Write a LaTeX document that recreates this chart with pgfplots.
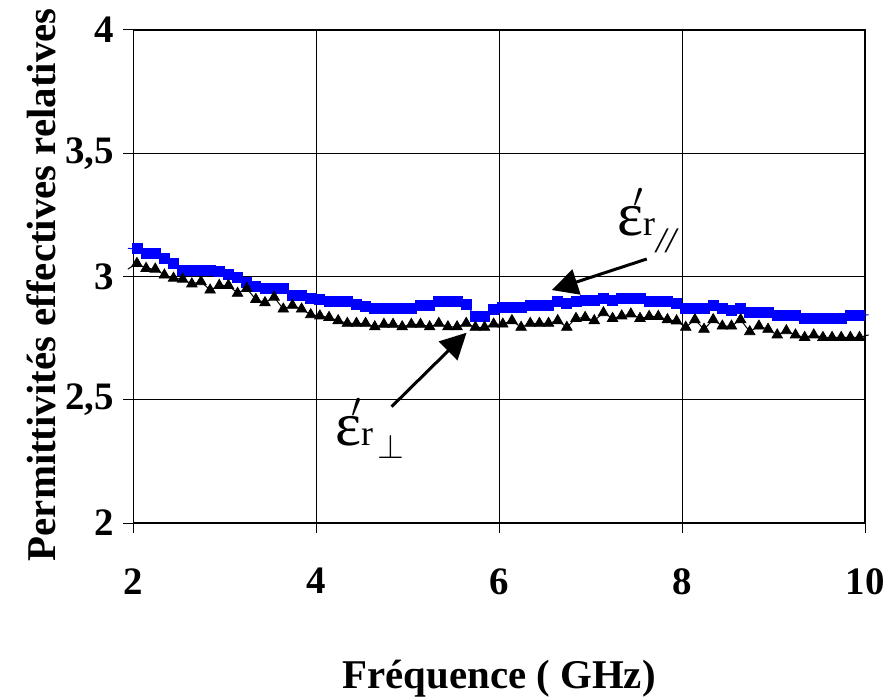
\documentclass[border=0pt]{standalone}
\usepackage{fontspec}
\setmainfont{Liberation Serif}
\usepackage{pgfplots}
\usepackage{pgfplotstable}
\pgfplotsset{compat=1.18}
\usetikzlibrary{arrows.meta}

% eps'_r parallel (blue squares)
\pgfplotstableread{
f     e
1.94  3.114
2.04  3.112
2.14  3.094
2.24  3.094
2.34  3.074
2.44  3.053
2.54  3.024
2.64  3.024
2.74  3.024
2.84  3.024
2.94  3.019
3.04  3.009
3.14  2.997
3.24  2.975
3.34  2.961
3.44  2.952
3.54  2.950
3.64  2.950
3.74  2.925
3.84  2.925
3.94  2.913
4.04  2.907
4.14  2.899
4.24  2.899
4.34  2.899
4.44  2.887
4.54  2.880
4.64  2.871
4.74  2.871
4.84  2.871
4.94  2.871
5.04  2.871
5.14  2.884
5.24  2.884
5.34  2.899
5.44  2.899
5.54  2.899
5.64  2.887
5.74  2.837
5.84  2.837
5.94  2.865
6.04  2.875
6.14  2.875
6.24  2.875
6.34  2.884
6.44  2.884
6.54  2.884
6.64  2.897
6.74  2.889
6.84  2.898
6.94  2.902
7.04  2.902
7.14  2.913
7.24  2.902
7.34  2.913
7.44  2.913
7.54  2.913
7.64  2.900
7.74  2.900
7.84  2.900
7.94  2.890
8.04  2.871
8.14  2.871
8.24  2.871
8.34  2.884
8.44  2.871
8.54  2.861
8.64  2.871
8.74  2.853
8.84  2.853
8.94  2.853
9.04  2.841
9.14  2.841
9.24  2.841
9.34  2.830
9.44  2.830
9.54  2.830
9.64  2.830
9.74  2.830
9.84  2.841
9.94  2.841
10.04 2.845
}\tpar

% eps'_r perpendicular (black triangles)
\pgfplotstableread{
f     e
1.94  3.030
2.04  3.053
2.14  3.033
2.24  3.030
2.34  3.006
2.44  2.993
2.54  2.989
2.64  2.970
2.74  2.979
2.84  2.945
2.94  2.964
3.04  2.964
3.14  2.932
3.24  2.951
3.34  2.907
3.44  2.894
3.54  2.916
3.64  2.868
3.74  2.883
3.84  2.868
3.94  2.845
4.04  2.840
4.14  2.834
4.24  2.821
4.34  2.810
4.44  2.810
4.54  2.810
4.64  2.796
4.74  2.806
4.84  2.806
4.94  2.796
5.04  2.806
5.14  2.806
5.24  2.796
5.34  2.810
5.44  2.796
5.54  2.796
5.64  2.810
5.74  2.794
5.84  2.794
5.94  2.807
6.04  2.807
6.14  2.821
6.24  2.794
6.34  2.810
6.44  2.810
6.54  2.810
6.64  2.821
6.74  2.794
6.84  2.830
6.94  2.834
7.04  2.821
7.14  2.853
7.24  2.830
7.34  2.840
7.44  2.848
7.54  2.830
7.64  2.838
7.74  2.838
7.84  2.825
7.94  2.820
8.04  2.794
8.14  2.825
8.24  2.786
8.34  2.825
8.44  2.799
8.54  2.799
8.64  2.825
8.74  2.776
8.84  2.799
8.94  2.786
9.04  2.763
9.14  2.780
9.24  2.763
9.34  2.753
9.44  2.763
9.54  2.753
9.64  2.753
9.74  2.753
9.84  2.753
9.94  2.753
10.04 2.763
}\tperp

\begin{document}
\begin{tikzpicture}
\begin{axis}[
  scale only axis, width=365.85bp, height=246.5bp,
  xmin=2, xmax=10, ymin=2, ymax=4,
  xtick={2,4,6,8,10}, ytick={2,2.5,3,3.5,4},
  xticklabels={2,4,6,8,10}, yticklabels={2,{2,5},3,{3,5},4},
  grid=major, grid style={black, line width=0.5bp},
  axis line style={black, line width=0.6bp},
  tick align=outside, major tick length=5bp, tick style={black, line width=0.5bp},
  xtick pos=bottom, ytick pos=left,
  ticklabel style={font=\fontsize{19.5}{22}\selectfont\bfseries, inner sep=0pt},
  xticklabel style={anchor=north, yshift=-17.5bp},
  yticklabel style={anchor=east, xshift=-4.5bp},
  xlabel={Fréquence ( GHz)},
  ylabel={Permittivités effectives relatives},
  label style={font=\fontsize{20.5}{24}\selectfont\bfseries, inner sep=0pt},
  xlabel style={at={(axis description cs:0.5,-0.3347)}, anchor=base},
  ylabel style={at={(axis description cs:-0.1066,0.483)}, anchor=base},
  clip=false,
]
\addplot[blue, line width=0.5bp, no marks] table[x=f, y=e] {\tpar};
\addplot[blue, only marks, mark=square*, mark size=2.5bp, restrict x to domain=2:10] table[x=f, y=e] {\tpar};
\addplot[black, line width=0.5bp, no marks] table[x=f, y=e] {\tperp};
\addplot[black, only marks, mark=triangle*, mark size=3bp, restrict x to domain=2:10] table[x=f, y=e] {\tperp};

\draw[line width=1.5bp, -{Triangle[length=13bp,width=13bp]}] (axis cs:7.614,3.071) -- (axis cs:6.576,2.945);
\draw[line width=1.5bp, -{Triangle[length=13bp,width=13bp]}] (axis cs:4.824,2.472) -- (axis cs:5.644,2.772);

\node[anchor=base west, inner sep=0pt] at (axis cs:7.286,3.168)
  {{\fontsize{31}{32}\selectfont ε}\rlap{\kern-5bp\raisebox{14bp}{\fontsize{18}{18}\selectfont$\prime$}}{\fontsize{18}{18}\selectfont r}\kern0.5bp{\fontsize{18}{18}\selectfont\raisebox{-8.5bp}{\itshape //}}};
\node[anchor=base west, inner sep=0pt] at (axis cs:4.204,2.316)
  {{\fontsize{31}{32}\selectfont ε}\rlap{\kern-5bp\raisebox{14bp}{\fontsize{18}{18}\selectfont$\prime$}}{\fontsize{18}{18}\selectfont r}\kern2bp{\fontsize{17}{17}\selectfont\raisebox{-6.5bp}{$\perp$}}};

\coordinate (ll) at (rel axis cs:0,0);
\coordinate (ur) at (rel axis cs:1,1);
\end{axis}
\pgfresetboundingbox
\path[use as bounding box] ([shift={(-66.65bp,-87bp)}]ll) rectangle ([shift={(14bp,15bp)}]ur);
\end{tikzpicture}
\end{document}
